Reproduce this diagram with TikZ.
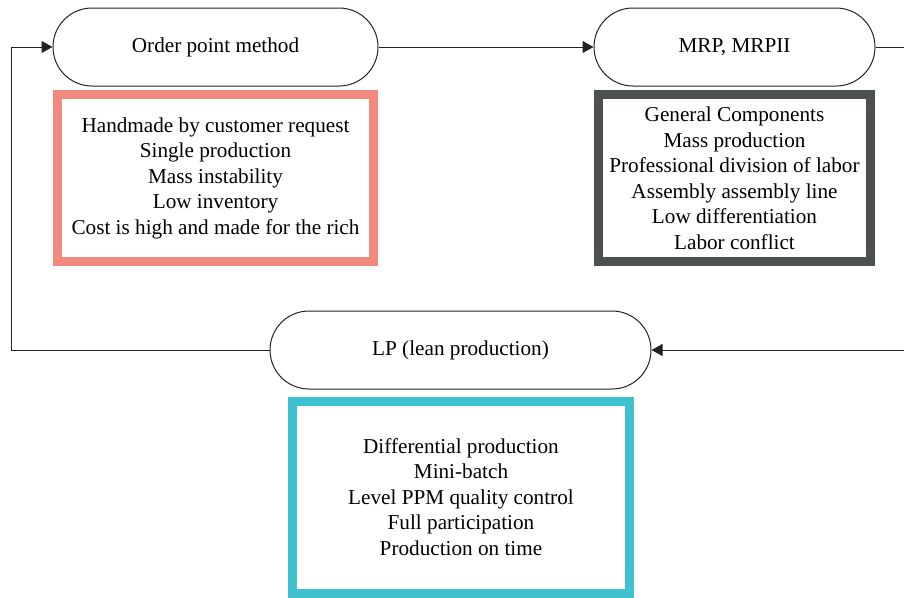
\documentclass[tikz,border=0pt]{standalone}
\usepackage{fontspec}
\setmainfont{Liberation Serif}
\usetikzlibrary{arrows.meta,shapes.misc}
\definecolor{salmon}{RGB}{242,137,125}
\definecolor{slate}{RGB}{77,80,80}
\definecolor{teal}{RGB}{64,193,208}
\definecolor{ink}{RGB}{34,34,34}
\begin{document}
\begin{tikzpicture}[x=1pt,y=-1pt,
  txt/.style={font=\fontsize{21.2}{25.5}\selectfont},
  term/.style={txt,draw=ink,line width=1pt,rounded rectangle,rounded rectangle arc length=180,
    inner sep=0pt,minimum height=78pt},
  listbox/.style={txt,line width=9pt,inner sep=0pt,align=center},
  flow/.style={draw=ink,line width=1pt,-{Triangle[length=11pt,width=12pt]}}]
\useasboundingbox (0,0) rectangle (904,597);
\clip (0,0) rectangle (904,597);
% process stages
\node[term,minimum width=325pt] (opm) at (215.5,47) {Order point method};
\node[term,minimum width=281pt] (mrp) at (734.5,47) {MRP, MRPII};
\node[term,minimum width=381pt] (lp) at (460.5,350) {LP (lean production)};
% feature boxes
\node[listbox,draw=salmon,minimum width=316pt,minimum height=167pt] (fopm) at (215.5,178)
  {Handmade by customer request\\Single production\\Mass instability\\Low inventory\\Cost is high and made for the rich};
\node[listbox,draw=slate,minimum width=272pt,minimum height=167pt] (fmrp) at (734.5,178)
  {General Components\\Mass production\\Professional division of labor\\Assembly assembly line\\Low differentiation\\Labor conflict};
\node[listbox,draw=teal,minimum width=337pt,minimum height=192pt] (flp) at (461,497)
  {Differential production\\Mini-batch\\Level PPM quality control\\Full participation\\Production on time};
% connectors
\coordinate (r1) at (920,47);
\coordinate (r2) at (920,350);
\coordinate (l1) at (11,350);
\coordinate (l2) at (11,47);
\draw[flow] (opm.east) -- (mrp.west);
\draw[flow] (mrp.east) -- (r1) -- (r2) -- (lp.east);
\draw[flow] (lp.west) -- (l1) -- (l2) -- (opm.west);
\end{tikzpicture}
\end{document}
